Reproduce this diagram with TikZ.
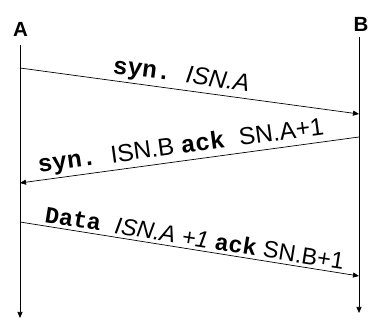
\documentclass[tikz,border=0pt]{standalone}
\usepackage{fontspec}
\setmainfont{Liberation Sans}
\setmonofont{Liberation Mono}
\usetikzlibrary{arrows.meta, positioning}
\tikzstyle{host}     = [font=\fontsize{20.5}{22}\selectfont\bfseries, inner sep=0pt]
\tikzstyle{lifeline} = [-{Triangle[length=6pt, width=5pt]}, line width=0.7pt]
\tikzstyle{msg}      = [-{Triangle[length=6pt, width=5pt]}, line width=0.7pt]
\tikzstyle{lbl}      = [font=\fontsize{24.5}{27}\selectfont, sloped, above, inner sep=2pt]
\newcommand{\kw}[1]{{\ttfamily\bfseries #1}}

\begin{document}
\begin{tikzpicture}[x=1pt, y=-1pt]
    \useasboundingbox (0,0) rectangle (368,320);

    % Hosts
    \node (A) [host] at (20.5,29.5) {A};
    \node (B) [host] at (361,24.5) {B};

    % Points on the lifelines
    \coordinate (a0) at (20,45);
    \coordinate (a1) at (20,68);
    \coordinate (a2) at (20,183);
    \coordinate (a3) at (20,222);
    \coordinate (aEnd) at (20,318);
    \coordinate (b0) at (359,37);
    \coordinate (b1) at (359,114);
    \coordinate (b2) at (359,137);
    \coordinate (b3) at (359,276);
    \coordinate (bEnd) at (359,313);

    % Lifelines
    \draw[lifeline] (a0) -- (aEnd);
    \draw[lifeline] (b0) -- (bEnd);

    % Messages
    \draw[msg] (a1) -- node[lbl, pos=0.47] {\kw{syn. }\textit{ISN.A}} (b1);
    \draw[msg] (b2) -- node[lbl, pos=0.52] {\kw{syn. }ISN.B \kw{ack }SN.A+1} (a2);
    \draw[msg] (a3) -- node[lbl, pos=0.51, font=\fontsize{23.5}{26}\selectfont, inner sep=3pt]
        {\kw{Data }\textit{ISN.A +1} \kw{ack} SN.B+1} (b3);
\end{tikzpicture}
\end{document}
